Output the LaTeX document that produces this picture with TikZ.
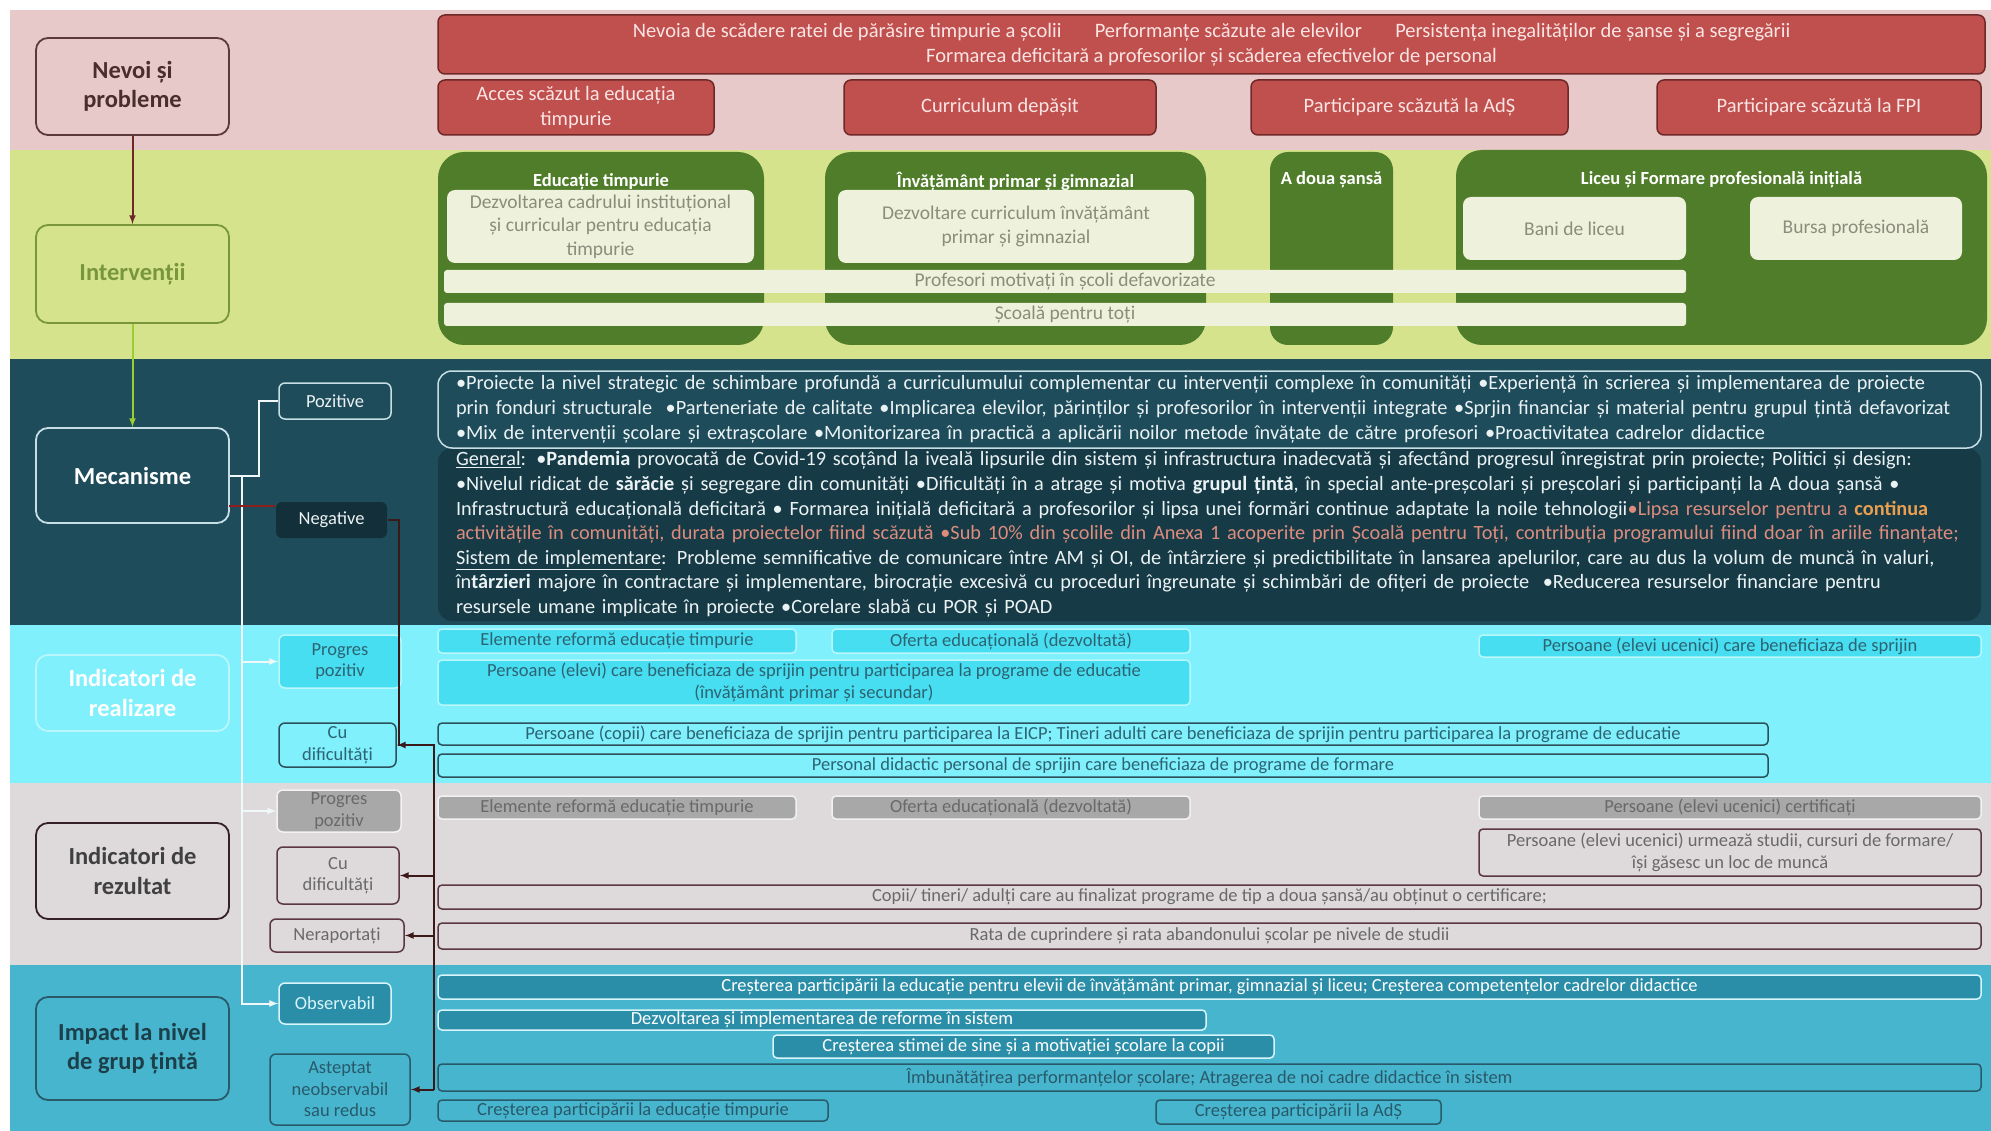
\documentclass[tikz,border=0pt]{standalone}
\usepackage{fontspec}
\setmainfont{Carlito}
\usepackage{tikz}
\usetikzlibrary{calc,arrows,positioning}
\definecolor{needband}{RGB}{231,201,201}
\definecolor{needred}{RGB}{192,80,77}
\definecolor{neededge}{RGB}{110,40,40}
\definecolor{needtext}{RGB}{250,228,228}
\definecolor{nevoiedge}{RGB}{92,58,58}
\definecolor{actband}{RGB}{213,227,141}
\definecolor{grpgreen}{RGB}{80,125,42}
\definecolor{actfill}{RGB}{238,242,220}
\definecolor{acttext}{RGB}{140,140,125}
\definecolor{intervedge}{RGB}{120,150,60}
\definecolor{intervarrow}{RGB}{154,205,50}
\definecolor{mechband}{RGB}{30,76,91}
\definecolor{mechdark}{RGB}{19,47,57}
\definecolor{negfill}{RGB}{22,58,70}
\definecolor{mechedge}{RGB}{200,222,230}
\definecolor{mechtext}{RGB}{235,242,244}
\definecolor{salmon}{RGB}{220,140,125}
\definecolor{orangebold}{RGB}{232,160,80}
\definecolor{realband}{RGB}{127,240,252}
\definecolor{realfill}{RGB}{70,222,240}
\definecolor{realedge}{RGB}{185,247,252}
\definecolor{realtext}{RGB}{45,100,115}
\definecolor{realdark}{RGB}{45,80,90}
\definecolor{rezband}{RGB}{222,218,219}
\definecolor{rezfill}{RGB}{168,168,168}
\definecolor{rezedge}{RGB}{242,242,242}
\definecolor{reztext}{RGB}{105,105,105}
\definecolor{rezdark}{RGB}{90,55,65}
\definecolor{impband}{RGB}{72,181,207}
\definecolor{impfill}{RGB}{43,142,169}
\definecolor{impedge}{RGB}{215,245,250}
\definecolor{imptext}{RGB}{40,90,105}
\definecolor{wire}{RGB}{240,248,250}
\definecolor{darkwire}{RGB}{60,25,25}
\definecolor{negwire}{RGB}{140,30,30}
\pgfdeclarelayer{bg}
\pgfsetlayers{bg,main}
\newcommand\txtbody{\fontsize{20.5}{25}\selectfont}
\newcommand\txtmech{\fontsize{20.3}{25}\selectfont}
\tikzstyle{rowhead} = [draw, rounded corners=12pt, line width=1.8pt, minimum width=193, align=center, font=\fontsize{24.5}{29.5}\selectfont\bfseries]
\tikzstyle{needbox} = [draw=neededge, fill=needred, rounded corners=7pt, line width=1.5pt, text=needtext, align=center, inner sep=0pt, font=\txtbody]
\tikzstyle{groupbox} = [fill=grpgreen, rounded corners=26pt]
\tikzstyle{grouptitle} = [text=white, font=\fontsize{18.5}{22}\selectfont\bfseries]
\tikzstyle{actbox} = [fill=actfill, rounded corners=8pt, text=acttext, align=center, inner sep=0pt, font=\fontsize{19.5}{23.5}\selectfont]
\tikzstyle{tag} = [rounded corners=6pt, line width=1.5pt, align=center, inner sep=2pt, font=\fontsize{18.5}{21.5}\selectfont]
\tikzstyle{item} = [rounded corners=4pt, line width=1.5pt, inner sep=0pt, align=center, font=\fontsize{18.5}{22}\selectfont]
\tikzstyle{mechbox} = [rounded corners=14pt, line width=1.5pt, text width=1507, align=left, inner xsep=18pt, inner ysep=0pt, text=mechtext, font=\txtmech]
\tikzstyle{wline} = [draw=wire, line width=2pt]
\tikzstyle{dline} = [draw=darkwire, line width=2pt]

\begin{document}
\begin{tikzpicture}[x=1pt,y=-1pt,>=latex]
\useasboundingbox (0,0) rectangle (1991,1131);

%% Benzi %%
\begin{pgfonlayer}{bg}
\fill[white] (0,0) rectangle (1991,1131);
\fill[needband] (10,10) rectangle (1991,150);
\fill[actband] (10,150) rectangle (1991,359);
\fill[mechband] (10,359) rectangle (1991,625);
\fill[realband] (10,625) rectangle (1991,783);
\fill[rezband] (10,783) rectangle (1991,965);
\fill[impband] (10,965) rectangle (1991,1131);
\end{pgfonlayer}

%% Coloana din stanga %%
\node [rowhead, draw=nevoiedge, fill=needband, text=nevoiedge!80!black, minimum height=97] (Nevoi) at (132.5,86.5) {Nevoi și\\probleme};
\node [rowhead, draw=intervedge, fill=actband, text=intervedge, minimum height=98] (Interv) at (132.5,274) {Intervenții};
\node [rowhead, draw=mechedge, fill=mechband, text=white, minimum height=95] (Mecan) at (132.5,475.5) {Mecanisme};
\node [rowhead, draw=realedge, fill=realband, text=white, minimum height=76] (IndReal) at (132.5,693) {Indicatori de\\realizare};
\node [rowhead, draw=rezdark!60!black, fill=rezband, text=black!75, minimum height=96] (IndRez) at (132.5,871) {Indicatori de\\rezultat};
\node [rowhead, draw=imptext, fill=impband, text=imptext!70!black, minimum height=103] (Impact) at (132.5,1048.5) {Impact la nivel\\de grup țintă};

%% Nevoi %%
\node [needbox, minimum width=1547, minimum height=59] (NevoiMari) at (1211.5,44.5) {Nevoia de scădere ratei de părăsire timpurie a școlii\hspace{1.4em} Performanțe scăzute ale elevilor\hspace{1.4em} Persistența inegalităților de șanse și a segregării\\Formarea deficitară a profesorilor și scăderea efectivelor de personal};
\node [needbox, minimum width=276, minimum height=55] (Acces) at (576,107.5) {Acces scăzut la educația\\timpurie};
\node [needbox, minimum width=312, minimum height=55] (Curric) at (1000,107.5) {Curriculum depășit};
\node [needbox, minimum width=317, minimum height=55] (PartAdS) at (1409.5,107.5) {Participare scăzută la AdȘ};
\node [needbox, minimum width=324, minimum height=55] (PartFPI) at (1819,107.5) {Participare scăzută la FPI};

%% Interventii %%
\node [groupbox, minimum width=326, minimum height=193] (grpET) at (601,248.5) {};
\node [groupbox, minimum width=381, minimum height=193] (grpIPG) at (1015.5,248.5) {};
\node [groupbox, rounded corners=18pt, minimum width=123, minimum height=193] (grpADS) at (1331.5,248.5) {};
\node [groupbox, minimum width=531, minimum height=195] (grpLFP) at (1721.5,247.5) {};
\node [grouptitle] (ttlET) at ($(grpET.north)+(0,30)$) {Educație timpurie};
\node [grouptitle] (ttlIPG) at ($(grpIPG.north)+(0,30)$) {Învățământ primar și gimnazial};
\node [grouptitle] (ttlADS) at ($(grpADS.north)+(0,28)$) {A doua șansă};
\node [grouptitle] (ttlLFP) at ($(grpLFP.north)+(0,30)$) {Liceu și Formare profesională inițială};
\node [actbox, minimum width=307, minimum height=73] (DezvET) at (600.5,226.5) {Dezvoltarea cadrului instituțional\\și curricular pentru educația\\timpurie};
\node [actbox, minimum width=356, minimum height=73] (DezvIPG) at (1016,226.5) {Dezvoltare curriculum învățământ\\primar și gimnazial};
\node [actbox, minimum width=223, minimum height=63] (Bani) at (1574.5,228.5) {Bani de liceu};
\node [actbox, minimum width=212, minimum height=63] (Bursa) at (1856,228.5) {Bursa profesională};
\node [actbox, rounded corners=3pt, minimum width=1242, minimum height=23] (Profesori) at (1065,281.5) {Profesori motivați în școli defavorizate};
\node [actbox, rounded corners=3pt, minimum width=1242, minimum height=23] (ScoalaToti) at (1065,314.5) {Școală pentru toți};

%% Mecanisme %%
\node [tag, draw=mechedge, fill=mechband, text=mechtext, minimum width=112, minimum height=36] (Pozitive) at (335,401) {Pozitive};
\node [tag, fill=mechdark, text=mechtext, minimum width=111, minimum height=36] (Negative) at (331.5,520) {Negative};
\node [mechbox, fill=negfill, minimum height=173, font=\fontsize{20.3}{24.6}\selectfont] (NegText) at (1209.5,534.5) {\underline{General}: •\textbf{Pandemia} provocată de Covid-19 scoțând la iveală lipsurile din sistem și infrastructura inadecvată și afectând progresul înregistrat prin proiecte; Politici și design:\\
•Nivelul ridicat de \textbf{sărăcie} și segregare din comunități •Dificultăți în a atrage și motiva \textbf{grupul țintă}, în special ante-preșcolari și preșcolari și participanți la A doua șansă •\\
Infrastructură educațională deficitară • Formarea inițială deficitară a profesorilor și lipsa unei formări continue adaptate la noile tehnologii\textcolor{salmon}{•Lipsa resurselor pentru a }\textcolor{orangebold}{\textbf{continua}}\\
\textcolor{salmon}{activitățile în comunități, durata proiectelor fiind scăzută •Sub 10\% din școlile din Anexa 1 acoperite prin Școală pentru Toți, contribuția programului fiind doar în ariile finanțate;}\\
\underline{Sistem de implementare}: Probleme semnificative de comunicare între AM și OI, de întârziere și predictibilitate în lansarea apelurilor, care au dus la volum de muncă în valuri,\\
în\textbf{târzieri} majore în contractare și implementare, birocrație excesivă cu proceduri îngreunate și schimbări de ofițeri de proiecte\ \ •Reducerea resurselor financiare pentru\\
resursele umane implicate în proiecte •Corelare slabă cu POR și POAD};
\node [mechbox, draw=mechedge, fill=mechband, minimum height=77] (PozText) at (1209.5,409.5) {•Proiecte la nivel strategic de schimbare profundă a curriculumului complementar cu intervenții complexe în comunități •Experiență în scrierea și implementarea de proiecte\\
prin fonduri structurale\ \ •Parteneriate de calitate\ •Implicarea elevilor, părinților și profesorilor în intervenții integrate •Sprjin financiar și material pentru grupul țintă defavorizat\\
•Mix de intervenții școlare și extrașcolare •Monitorizarea în practică a aplicării noilor metode învățate de către profesori •Proactivitatea cadrelor didactice};

%% Indicatori de realizare %%
\node [tag, draw=realedge, fill=realfill, text=realtext, minimum width=122, minimum height=53] (PP1) at (340,661.5) {Progres\\pozitiv};
\node [tag, draw=realdark, fill=realband, text=realtext, minimum width=117, minimum height=44] (CD1) at (337.5,745) {Cu\\dificultăți};
\node [item, draw=realedge, fill=realfill, text=realtext, minimum width=358, minimum height=24] (R1a) at (617,641) {Elemente reformă educație timpurie};
\node [item, draw=realedge, fill=realfill, text=realtext, minimum width=358, minimum height=24] (R1b) at (1011,641) {Oferta educațională (dezvoltată)};
\node [item, draw=realedge, fill=realfill, text=realtext, minimum width=502, minimum height=22] (R1c) at (1730,646) {Persoane (elevi ucenici) care beneficiaza de sprijin};
\node [item, draw=realedge, fill=realfill, text=realtext, minimum width=752, minimum height=45] (R1d) at (814,682.5) {Persoane (elevi) care beneficiaza de sprijin pentru participarea la programe de educatie\\(învățământ primar și secundar)};
\node [item, draw=realdark, fill=realband, text=realtext, minimum width=1330, minimum height=22] (R1e) at (1103,734) {Persoane (copii) care beneficiaza de sprijin pentru participarea la EICP; Tineri adulti care beneficiaza de sprijin pentru participarea la programe de educatie};
\node [item, draw=realdark, fill=realband, text=realtext, minimum width=1330, minimum height=23] (R1f) at (1103,765.5) {Personal didactic personal de sprijin care beneficiaza de programe de formare};

%% Indicatori de rezultat %%
\node [tag, draw=rezedge, fill=rezfill, text=reztext, minimum width=124, minimum height=42] (PP2) at (339,811) {Progres\\pozitiv};
\node [tag, draw=rezdark, fill=rezband, text=reztext, minimum width=122, minimum height=57] (CD2) at (338,875.5) {Cu\\dificultăți};
\node [tag, draw=rezdark, fill=rezband, text=reztext, minimum width=134, minimum height=33] (NR) at (337,935.5) {Neraportați};
\node [item, draw=rezedge, fill=rezfill, text=reztext, minimum width=358, minimum height=23] (R2a) at (617,807.5) {Elemente reformă educație timpurie};
\node [item, draw=rezedge, fill=rezfill, text=reztext, minimum width=358, minimum height=23] (R2b) at (1011,807.5) {Oferta educațională (dezvoltată)};
\node [item, draw=rezedge, fill=rezfill, text=reztext, minimum width=502, minimum height=23] (R2c) at (1730,807.5) {Persoane (elevi ucenici) certificați};
\node [item, draw=rezdark, fill=rezband, text=reztext, minimum width=502, minimum height=47] (R2d) at (1730,852.5) {Persoane (elevi ucenici) urmează studii, cursuri de formare/\\își găsesc un loc de muncă};
\node [item, draw=rezdark, fill=rezband, text=reztext, minimum width=1543, minimum height=24] (R2e) at (1209.5,897) {Copii/ tineri/ adulți care au finalizat programe de tip a doua șansă/au obținut o certificare;};
\node [item, draw=rezdark, fill=rezband, text=reztext, minimum width=1543, minimum height=26] (R2f) at (1209.5,936) {Rata de cuprindere și rata abandonului școlar pe nivele\ de studii};

%% Impact %%
\node [tag, draw=impedge, fill=impfill, text=impedge, minimum width=112, minimum height=41] (OBS) at (335,1003.5) {Observabil};
\node [tag, draw=imptext, fill=impband, text=imptext, minimum width=140, minimum height=71] (ASP) at (340,1089.5) {Asteptat\\neobservabil\\sau redus};
\node [item, draw=impedge, fill=impfill, text=white, minimum width=1543, minimum height=24] (R3a) at (1209.5,987) {Creșterea participării la educație pentru elevii de învățământ primar, gimnazial și liceu; Creșterea competențelor cadrelor didactice};
\node [item, draw=impedge, fill=impfill, text=white, minimum width=768, minimum height=20] (R3b) at (822,1020) {Dezvoltarea și implementarea de reforme în sistem};
\node [item, draw=impedge, fill=impfill, text=white, minimum width=501, minimum height=23] (R3c) at (1023.5,1046.5) {Creșterea stimei de sine și a motivației școlare la copii};
\node [item, draw=imptext, fill=impband, text=imptext, minimum width=1543, minimum height=27] (R3d) at (1209.5,1077.5) {Îmbunătățirea performanțelor școlare; Atragerea de noi cadre didactice în sistem};
\node [item, draw=imptext, fill=impband, text=imptext, minimum width=390, minimum height=21] (R3e) at (633,1110.5) {Creșterea participării la educație timpurie};
\node [item, draw=imptext, fill=impband, text=imptext, minimum width=285, minimum height=24] (R3f) at (1298.5,1112) {Creșterea participării la AdȘ};

%% Conexiuni %%
\draw[->, draw=neededge, line width=2pt] (Nevoi) -- (Interv);
\draw[->, draw=intervarrow, line width=2pt] (Interv) -- (Mecan);
\coordinate (jpos) at (242,476);
\draw[wline] (Mecan.east) -- ++(29,0) |- (Pozitive.west);
\draw[wline, ->] (jpos) |- (PP1.west);
\draw[wline, ->] (jpos) |- (PP2.west);
\draw[wline, ->] (jpos) |- (OBS.west);
\coordinate (negtap) at (229,506);
\draw[draw=negwire, line width=2pt] (negtap) -- (negtap -| Negative.west);
\coordinate (ndown) at (399,520);
\coordinate (nright) at (434,745);
\draw[dline] (Negative.east) -- (ndown) -- (ndown |- nright) -- (nright) -- (nright |- ASP.east);
\draw[dline, ->] (nright) -- (CD1.east);
\draw[dline, ->] (nright |- CD2.east) -- (CD2.east);
\draw[dline, ->] (nright |- NR.east) -- (NR.east);
\draw[dline, ->] (nright |- ASP.east) -- (ASP.east);

\end{tikzpicture}
\end{document}
